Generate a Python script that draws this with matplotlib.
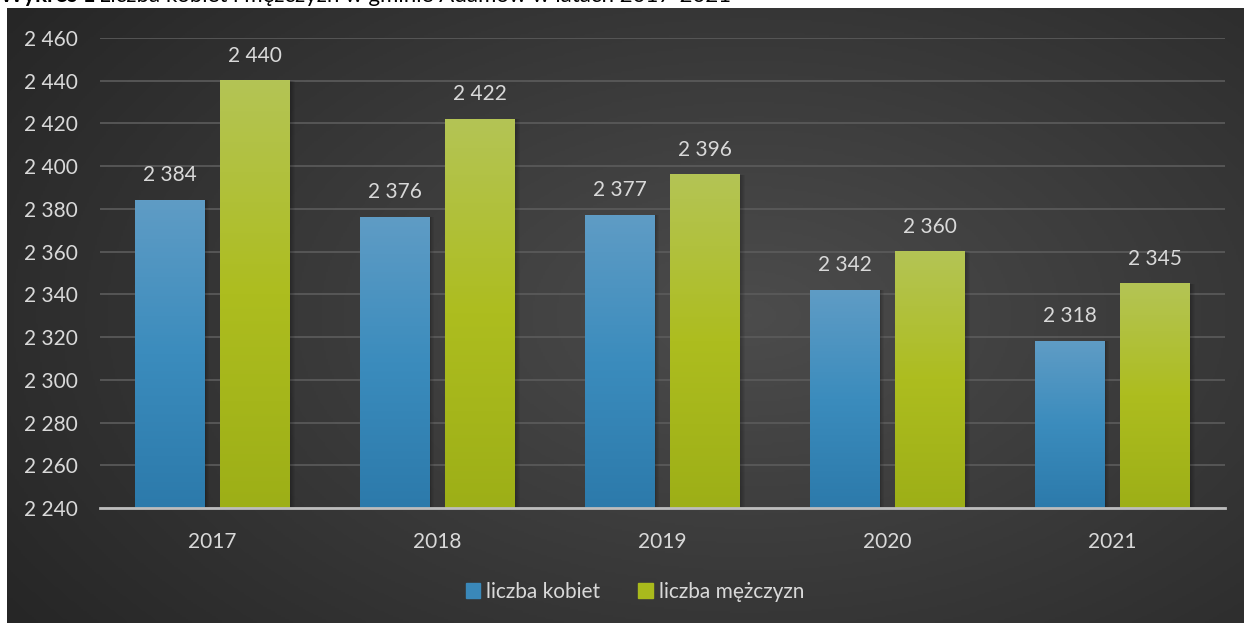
import matplotlib.pyplot as plt
import numpy as np
from matplotlib.patches import Patch
from matplotlib.colors import LinearSegmentedColormap

lata = ['2017', '2018', '2019', '2020', '2021']
kobiety = [2384, 2376, 2377, 2342, 2318]
mezczyzni = [2440, 2422, 2396, 2360, 2345]
serie = ['liczba kobiet', 'liczba mężczyzn']
yticks = [2240, 2260, 2280, 2300, 2320, 2340, 2360, 2380, 2400, 2420, 2440, 2460]

plt.rcParams['font.family'] = ['Lato', 'DejaVu Sans']

fmt = lambda v: f"{v:,}".replace(",", " ")
jasny = '#d9d9d9'

fig = plt.figure(figsize=(12.44, 6.23), dpi=100, facecolor='white')

# tlo wykresu - ciemny gradient radialny
bg = fig.add_axes([7/1244, 0, 1237/1244, 615/623])
yy, xx = np.mgrid[0:1:300j, 0:1:600j]
r = np.sqrt(((xx - 0.6) / 0.75) ** 2 + ((yy - 0.5) / 0.9) ** 2)
tlo = np.clip(1 - r, 0, 1)
cm_bg = LinearSegmentedColormap.from_list('bg', ['#262626', '#4c4c4c'])
bg.imshow(tlo, cmap=cm_bg, aspect='auto', extent=[0, 1, 0, 1])
bg.axis('off')

# tytul (uciety u gory, jak w oryginale)
t1 = fig.text(0.0, 621/623, 'Wykres 1', fontsize=16, fontweight='bold', color='black', va='baseline')
fig.canvas.draw()
x_end = t1.get_window_extent().x1 / fig.bbox.width
fig.text(x_end + 4/1244, 621/623, 'Liczba kobiet i mężczyzn w gminie Adamów w latach 2017-2021',
         fontsize=16, color='black', va='baseline')

ax = fig.add_axes([100/1244, 115/623, 1125/1244, 470/623])
ax.set_facecolor('none')

x = np.arange(len(lata))
w = 0.31
off = 0.19
cm_k = LinearSegmentedColormap.from_list('k', ['#2c7aab', '#3b8cbd', '#5f9cc5'])
cm_m = LinearSegmentedColormap.from_list('m', ['#9daf17', '#adbd1f', '#b4c455'])
grad = np.linspace(0, 1, 256).reshape(-1, 1)

for vals, dx, cmap in [(kobiety, -off, cm_k), (mezczyzni, off, cm_m)]:
    bars = ax.bar(x + dx, [v - 2240 for v in vals], bottom=2240, width=w, color='none', zorder=3)
    for b, v in zip(bars, vals):
        x0 = b.get_x()
        # cien
        for i in range(6):
            ax.bar(x0 + w / 2 + 0.004 * i, v - 2240, bottom=2240, width=w,
                   color='black', alpha=0.05, zorder=2, linewidth=0)
        ax.imshow(grad, cmap=cmap, aspect='auto', origin='lower',
                  extent=[x0, x0 + w, 2240, v], zorder=3)
        ax.text(x0 + w / 2, v + 7, fmt(v), ha='center', va='bottom', fontsize=15, color=jasny)

ax.set_xlim(-0.5, 4.5)
ax.set_ylim(2240, 2460)
ax.set_yticks(yticks)
ax.set_yticklabels([fmt(v) for v in yticks])
ax.set_xticks(x)
ax.set_xticklabels(lata)
ax.tick_params(axis='y', length=0, pad=16, labelsize=15, labelcolor=jasny)
ax.tick_params(axis='x', length=0, pad=17, labelsize=15, labelcolor=jasny)
ax.grid(axis='y', color='#5c5c5c', linewidth=1.2, zorder=0)
ax.set_axisbelow(True)
for s in ['top', 'right', 'left']:
    ax.spines[s].set_visible(False)
ax.spines['bottom'].set_color('#bdbdbd')
ax.spines['bottom'].set_linewidth(2)
ax.spines['bottom'].set_zorder(4)

uchwyty = [Patch(color='#3a88b9'), Patch(color='#a9ba1c')]
leg = fig.legend(uchwyty, serie, loc='center', bbox_to_anchor=(635/1244, 31/623), ncol=2,
                 frameon=False, fontsize=15, handlelength=0.7, handleheight=0.7,
                 handletextpad=0.3, columnspacing=1.8)
for t in leg.get_texts():
    t.set_color(jasny)

fig.savefig('out.png', dpi=100, facecolor='white')
